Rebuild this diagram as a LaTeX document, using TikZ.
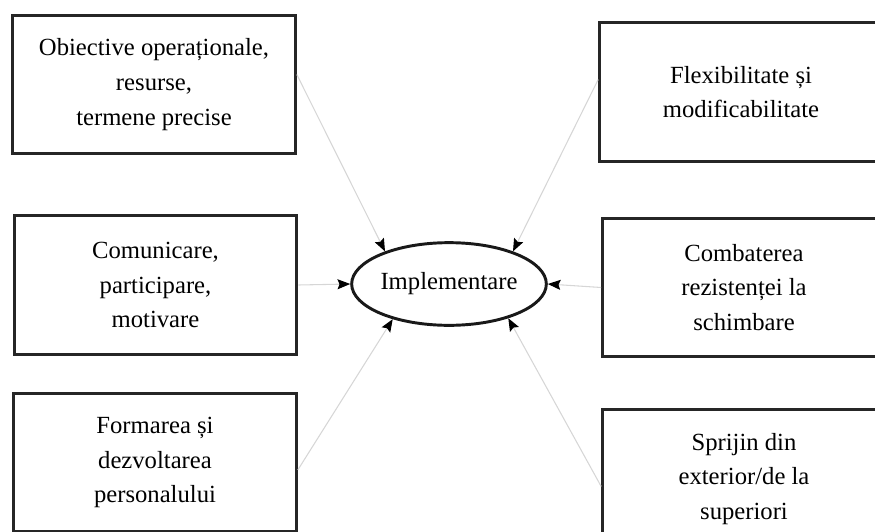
\documentclass[tikz,border=0pt]{standalone}
\usepackage{fontspec}
\setmainfont{Liberation Serif}
\usetikzlibrary{arrows.meta,shapes.geometric}

\begin{document}
\begin{tikzpicture}[x=0.75pt,y=-0.75pt,
    box/.style={draw=black!85,line width=2.2pt,minimum width=212pt,minimum height=104pt,
      align=center,font=\fontsize{18.5}{26}\selectfont},
    oval/.style={ellipse,draw=black!90,line width=2.2pt,inner sep=0pt,minimum width=146pt,
      minimum height=62pt,font=\fontsize{18.5}{26}\selectfont},
    link/.style={draw=black!16,line width=0.8pt,-{Stealth[black,length=9.5pt,width=7.5pt,inset=1.5pt]}}]
  \useasboundingbox (0,0) rectangle (875,532);
  \node[box] (obiective) at (154,84.5) {Obiective operaționale,\\resurse,\\termene precise};
  \node[box] (comunicare) at (155.5,285) {Comunicare,\\participare,\\motivare};
  \node[box] (formarea) at (155,462.5) {Formarea și\\dezvoltarea\\personalului};
  \node[box] (flexibilitate) at (741,92) {Flexibilitate și\\modificabilitate};
  \node[box] (combaterea) at (744,287.5) {Combaterea\\rezistenței la\\schimbare};
  \node[box] (sprijin) at (744,479) {Sprijin din\\exterior/de la\\superiori};
  \node[oval] (impl) at (449,284) {Implementare};
  \begin{scope}[link]
    \draw (obiective.4) to (impl.153);
    \draw (comunicare.east) to (impl.west);
    \draw (formarea.-3) to (impl.212);
    \draw (flexibilitate.175) to (impl.27);
    \draw (combaterea.west) to (impl.east);
    \draw (sprijin.183) to (impl.330);
  \end{scope}
\end{tikzpicture}
\end{document}
